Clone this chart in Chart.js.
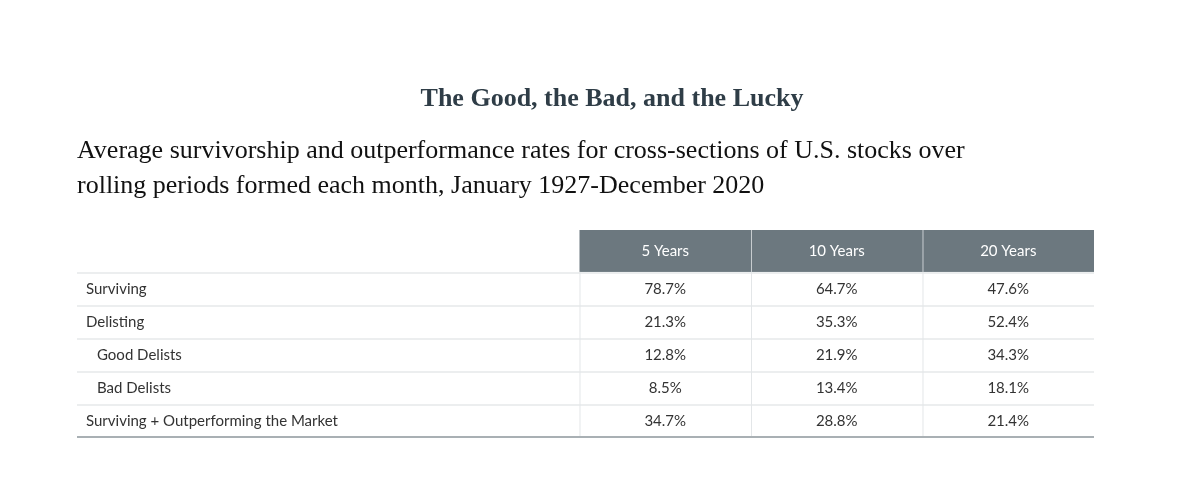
<!DOCTYPE html>
<html><head><meta charset="utf-8">
<script src="https://cdn.jsdelivr.net/npm/chart.js@4"></script>
<style>html,body{margin:0;padding:0;background:#fff}</style>
</head><body>
<canvas id="c" width="1200" height="495"></canvas>
<script>
const title = "The Good, the Bad, and the Lucky";
const subtitleLines = ["Average survivorship and outperformance rates for cross-sections of U.S. stocks over",
  "rolling periods formed each month, January 1927-December 2020"];
const columns = ["5 Years", "10 Years", "20 Years"];
const rowLabels = ["Surviving", "Delisting", "Good Delists", "Bad Delists", "Surviving + Outperforming the Market"];
const indented = [false, false, true, true, false];
const years5 = ["78.7%", "21.3%", "12.8%", "8.5%", "34.7%"];
const years10 = ["64.7%", "35.3%", "21.9%", "13.4%", "28.8%"];
const years20 = ["47.6%", "52.4%", "34.3%", "18.1%", "21.4%"];
const colEdges = [0, 2.93, 3.93, 4.93, 5.93];
const rowEdges = [0, 1.27, 2.27, 3.27, 4.27, 5.27, 6.27];

const tablePlugin = {
  id: 'table',
  afterDraw(chart) {
    const ctx = chart.ctx, x = chart.scales.x, y = chart.scales.y;
    const X = v => x.getPixelForValue(v), Y = v => y.getPixelForValue(v);
    const left = X(colEdges[0]), right = X(colEdges[4]);
    ctx.save();
    // titles
    ctx.fillStyle = '#2f3d47';
    ctx.font = 'bold 26px "Liberation Serif"';
    ctx.textAlign = 'center'; ctx.textBaseline = 'middle';
    ctx.fillText(title, 612, 99);
    ctx.fillStyle = '#111';
    ctx.font = '26px "Liberation Serif"';
    ctx.textAlign = 'left';
    ctx.fillText(subtitleLines[0], left, 151);
    ctx.fillText(subtitleLines[1], left, 186);
    // header
    ctx.fillStyle = '#6c787f';
    ctx.fillRect(X(colEdges[1]), Y(rowEdges[0]), right - X(colEdges[1]), Y(rowEdges[1]) - Y(rowEdges[0]));
    ctx.strokeStyle = '#c9ced1'; ctx.lineWidth = 1;
    for (let i = 2; i < 4; i++) {
      ctx.beginPath(); ctx.moveTo(X(colEdges[i]) + 0.5, Y(rowEdges[0])); ctx.lineTo(X(colEdges[i]) + 0.5, Y(rowEdges[1])); ctx.stroke();
    }
    ctx.fillStyle = '#fff'; ctx.font = '15px Lato'; ctx.textAlign = 'center';
    const hy = (Y(rowEdges[0]) + Y(rowEdges[1])) / 2;
    columns.forEach((c, i) => ctx.fillText(c, (X(colEdges[i + 1]) + X(colEdges[i + 2])) / 2, hy));
    // body lines
    ctx.strokeStyle = '#eceeef'; ctx.lineWidth = 2;
    for (let r = 1; r < 6; r++) {
      ctx.beginPath(); ctx.moveTo(left, Y(rowEdges[r]) + 1); ctx.lineTo(right, Y(rowEdges[r]) + 1); ctx.stroke();
    }
    ctx.lineWidth = 1; ctx.strokeStyle = '#e3e6e8';
    for (let i = 1; i < 4; i++) {
      ctx.beginPath(); ctx.moveTo(X(colEdges[i]) + 0.5, Y(rowEdges[1])); ctx.lineTo(X(colEdges[i]) + 0.5, Y(rowEdges[6])); ctx.stroke();
    }
    ctx.strokeStyle = '#a9b0b4'; ctx.lineWidth = 2;
    ctx.beginPath(); ctx.moveTo(left, Y(rowEdges[6])); ctx.lineTo(right, Y(rowEdges[6])); ctx.stroke();
    // body text
    const vals = [years5, years10, years20];
    ctx.fillStyle = '#333'; ctx.font = '15px Lato';
    rowLabels.forEach((lab, r) => {
      const cy = (Y(rowEdges[r + 1]) + Y(rowEdges[r + 2])) / 2 + 1;
      ctx.textAlign = 'left';
      ctx.fillText(lab, left + (indented[r] ? 20 : 9), cy);
      ctx.textAlign = 'center';
      vals.forEach((v, i) => ctx.fillText(v[r], (X(colEdges[i + 1]) + X(colEdges[i + 2])) / 2, cy));
    });
    ctx.restore();
  }
};

new Chart(document.getElementById('c'), {
  type: 'scatter',
  data: { datasets: [{ data: [] }] },
  options: {
    responsive: false, animation: false,
    layout: { padding: { left: 77, right: 106, top: 230, bottom: 58 } },
    plugins: { legend: { display: false }, tooltip: { enabled: false } },
    scales: {
      x: { type: 'linear', min: colEdges[0], max: colEdges[4], display: false },
      y: { type: 'linear', min: rowEdges[0], max: rowEdges[6], reverse: true, display: false }
    }
  },
  plugins: [tablePlugin]
});
</script>
</body></html>
